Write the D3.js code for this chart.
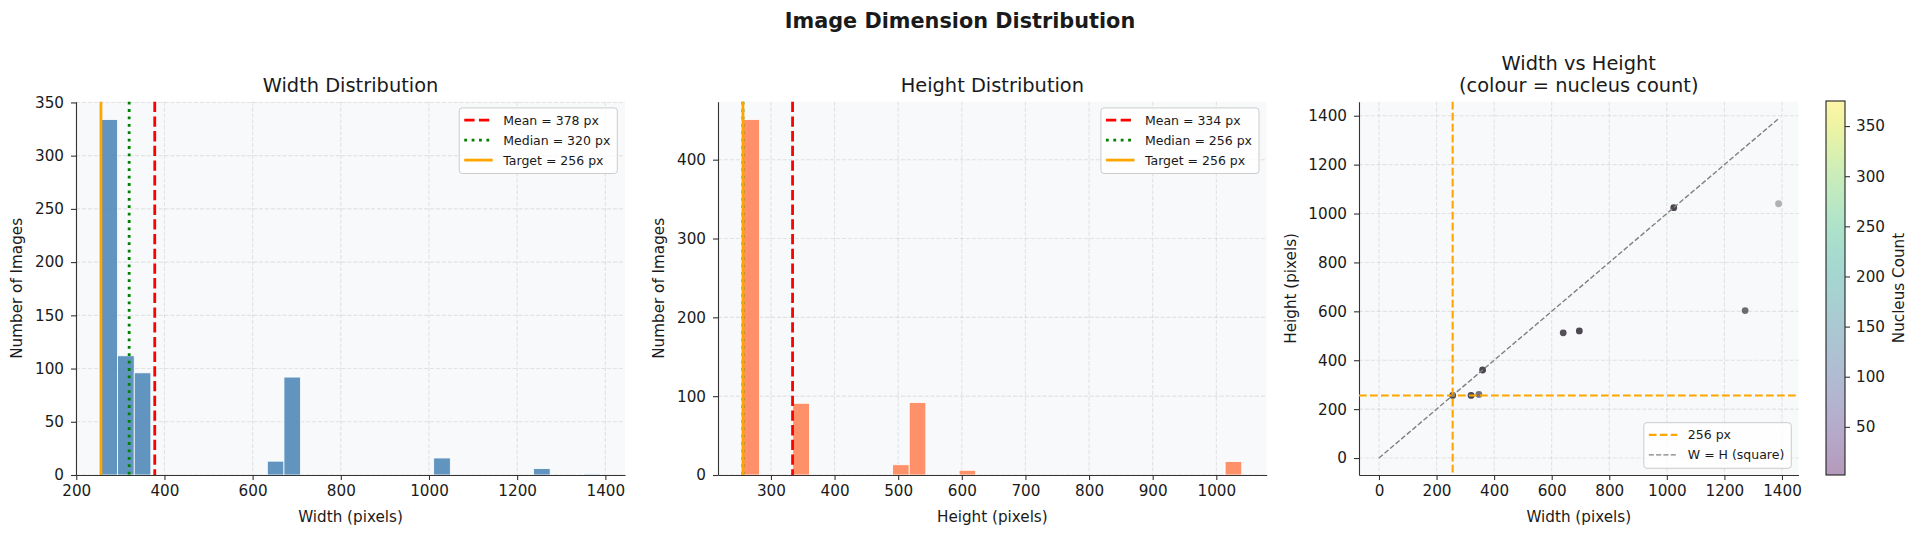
<!DOCTYPE html>
<html><head><meta charset="utf-8">
<script src="https://cdn.jsdelivr.net/npm/d3@7/dist/d3.min.js"></script>
<style>
body{margin:0;background:#fff}
svg{display:block}
text{font-family:"DejaVu Sans",sans-serif;fill:#1a1a1a}
</style>
</head><body>
<svg id="c" width="1920" height="536"></svg>
<script>
// ---------------- DATA ----------------
const binCount = 30;
const widthBinRange = [256, 1388];
const widthBinCounts = [334,112,96,0,0,0,0,0,0,0,13,92,0,0,0,0,0,0,0,0,16,0,0,0,0,0,6,0,0,1];
const heightBinRange = [256, 1040];
const heightBinCounts = [451,0,0,91,0,0,0,0,0,13,92,0,0,6,0,0,0,0,0,0,0,0,0,0,0,0,0,0,0,17];

const statNames = ["Mean", "Median", "Target"];
const widthStats = [378, 320, 256];
const heightStats = [334, 256, 256];

const scatterWidths  = [256, 320, 347, 360, 640, 696, 1024, 1272, 1388];
const scatterHeights = [256, 256, 260, 360, 512, 520, 1024, 603, 1040];
const scatterImageCounts = [334, 112, 5, 91, 13, 92, 16, 6, 1];
const targetSize = 256;

const widthXTicks = [200,400,600,800,1000,1200,1400];
const widthYTicks = [0,50,100,150,200,250,300,350];
const heightXTicks = [300,400,500,600,700,800,900,1000];
const heightYTicks = [0,100,200,300,400];
const scatterTicks = [0,200,400,600,800,1000,1200,1400];
const nucleusRange = [2, 375];
const colorbarTicks = [50,100,150,200,250,300,350];

// ---------------- HELPERS ----------------
const svg = d3.select('#c');
const AX_BG = '#f8f9fa', SPINE = '#333';
const TICK_FS = 15.2, LABEL_FS = 15.2, TITLE_FS = 19.4, LEG_FS = 12.5;
const statStyles = [
  {color:'#ff0000', dash:'10.3,4.4', width:2.8},
  {color:'#008000', dash:'2.8,4.6', width:2.8},
  {color:'#ffa500', dash:null, width:2.8}
];

function makePanel(box, xDom, yDom, xTicks, yTicks) {
  const x = d3.scaleLinear().domain(xDom).range([box.x0, box.x1]);
  const y = d3.scaleLinear().domain(yDom).range([box.y1, box.y0]);
  const g = svg.append('g');
  g.append('rect').attr('x', box.x0).attr('y', box.y0)
    .attr('width', box.x1 - box.x0).attr('height', box.y1 - box.y0).attr('fill', AX_BG);
  const grid = g.append('g').attr('stroke', '#b0b0b0').attr('stroke-opacity', 0.3)
    .attr('stroke-width', 1.1).attr('stroke-dasharray', '4.1,1.8');
  xTicks.forEach(t => grid.append('line').attr('x1', x(t)).attr('x2', x(t)).attr('y1', box.y0).attr('y2', box.y1));
  yTicks.forEach(t => grid.append('line').attr('y1', y(t)).attr('y2', y(t)).attr('x1', box.x0).attr('x2', box.x1));
  const content = g.append('g');
  const axes = svg.append('g');
  const xa = axes.append('g').attr('transform', `translate(0,${box.y1})`)
    .call(d3.axisBottom(x).tickValues(xTicks).tickSize(5).tickPadding(5).tickSizeOuter(0).tickFormat(d3.format('d')));
  const ya = axes.append('g').attr('transform', `translate(${box.x0},0)`)
    .call(d3.axisLeft(y).tickValues(yTicks).tickSize(5).tickPadding(7).tickSizeOuter(0).tickFormat(d3.format('d')));
  [xa, ya].forEach(a => {
    a.select('.domain').attr('stroke', SPINE).attr('stroke-width', 1.1);
    a.selectAll('.tick line').attr('stroke', SPINE).attr('stroke-width', 1.1);
    a.selectAll('.tick text').attr('font-size', TICK_FS).attr('font-family', '"DejaVu Sans",sans-serif').attr('fill', '#1a1a1a');
  });
  return {x, y, g: content, top: svg.append('g'), box};
}

function legend(p, items, corner) {
  const lg = svg.append('g');
  const rowH = 20, handleX0 = 5, handleX1 = 33.5, textX = 44;
  const texts = items.map((it, i) => lg.append('text').attr('font-size', LEG_FS).text(it.label));
  const maxW = d3.max(texts, t => t.node().getComputedTextLength());
  const w = textX + maxW + 7, h = items.length * rowH + 5.6;
  let lx, ly;
  if (corner === 'ur') { lx = p.box.x1 - 7.7 - w; ly = p.box.y0 + 6.2; }
  else { lx = p.box.x1 - 7.2 - w; ly = p.box.y1 - 6.7 - h; }
  lg.insert('rect', ':first-child').attr('x', lx).attr('y', ly).attr('width', w).attr('height', h)
    .attr('rx', 3).attr('fill', '#fff').attr('fill-opacity', 0.8).attr('stroke', '#cccccc').attr('stroke-width', 1);
  items.forEach((it, i) => {
    const base = ly + 16.7 + i * rowH;
    texts[i].attr('x', lx + textX).attr('y', base);
    const l = lg.append('line').attr('x1', lx + handleX0).attr('x2', lx + handleX1)
      .attr('y1', base - 4.5).attr('y2', base - 4.5)
      .attr('stroke', it.color).attr('stroke-width', it.width);
    if (it.dash) l.attr('stroke-dasharray', it.dash);
  });
}

function hist(p, range, counts, color) {
  const bw = (range[1] - range[0]) / binCount;
  p.g.selectAll('rect.bar').data(counts.map((c, i) => ({c, x0: range[0] + i * bw, x1: range[0] + (i + 1) * bw})).filter(d => d.c > 0))
    .join('rect').attr('class', 'bar')
    .attr('x', d => p.x(d.x0)).attr('width', d => p.x(d.x1) - p.x(d.x0))
    .attr('y', d => p.y(d.c)).attr('height', d => p.y(0) - p.y(d.c))
    .attr('fill', color).attr('fill-opacity', 0.85).attr('stroke', '#fff').attr('stroke-width', 0.8);
}

function statLines(p, values) {
  values.forEach((v, i) => {
    const s = statStyles[i];
    const l = p.top.append('line').attr('x1', p.x(v)).attr('x2', p.x(v))
      .attr('y1', p.box.y0).attr('y2', p.box.y1)
      .attr('stroke', s.color).attr('stroke-width', s.width);
    if (s.dash) l.attr('stroke-dasharray', s.dash);
  });
  legend(p, values.map((v, i) => ({...statStyles[i], label: `${statNames[i]} = ${v} px`})), 'ur');
}

function title(cx, lines, baseline) {
  lines.forEach((t, i) => svg.append('text').attr('x', cx).attr('y', baseline - (lines.length - 1 - i) * 21.7)
    .attr('text-anchor', 'middle').attr('font-size', TITLE_FS).text(t));
}
function xLabel(p, t) {
  svg.append('text').attr('x', (p.box.x0 + p.box.x1) / 2).attr('y', 521.5)
    .attr('text-anchor', 'middle').attr('font-size', LABEL_FS).text(t);
}
function yLabel(p, t, bx) {
  svg.append('text').attr('transform', `translate(${bx},${(p.box.y0 + p.box.y1) / 2}) rotate(-90)`)
    .attr('text-anchor', 'middle').attr('font-size', LABEL_FS).text(t);
}

// ---------------- SUPTITLE ----------------
svg.append('text').attr('x', 960).attr('y', 28).attr('text-anchor', 'middle')
  .attr('font-size', 20.8).attr('font-weight', 'bold').text('Image Dimension Distribution');

// ---------------- PANEL 1 ----------------
const wPad = (widthBinRange[1] - widthBinRange[0]) * 0.05;
const p1 = makePanel({x0: 76, x1: 625, y0: 101.7, y1: 475},
  [widthBinRange[0] - wPad, widthBinRange[1] + wPad], [0, d3.max(widthBinCounts) * 1.05], widthXTicks, widthYTicks);
hist(p1, widthBinRange, widthBinCounts, '#4682b4');
statLines(p1, widthStats);
title((76 + 625) / 2, ['Width Distribution'], 91.7);
xLabel(p1, 'Width (pixels)');
yLabel(p1, 'Number of Images', 21.5);

// ---------------- PANEL 2 ----------------
const hPad = (heightBinRange[1] - heightBinRange[0]) * 0.05;
const p2 = makePanel({x0: 718, x1: 1266.7, y0: 101.7, y1: 475},
  [heightBinRange[0] - hPad, heightBinRange[1] + hPad], [0, d3.max(heightBinCounts) * 1.05], heightXTicks, heightYTicks);
hist(p2, heightBinRange, heightBinCounts, '#ff7f50');
statLines(p2, heightStats);
title((718 + 1266.7) / 2, ['Height Distribution'], 91.7);
xLabel(p2, 'Height (pixels)');
yLabel(p2, 'Number of Images', 663.5);

// ---------------- PANEL 3 ----------------
const sMax = d3.max(scatterWidths.concat(scatterHeights));
const sPad = sMax * 0.05;
const p3 = makePanel({x0: 1359, x1: 1798.5, y0: 101.7, y1: 475},
  [-sPad, sMax + sPad], [-sPad, sMax + sPad], scatterTicks, scatterTicks);
const op = d3.scaleLog().domain([1, 16]).range([0.35, 0.85]).clamp(true);
p3.g.selectAll('circle').data(scatterWidths.map((w, i) => ({w, h: scatterHeights[i], n: scatterImageCounts[i]})))
  .join('circle').attr('cx', d => p3.x(d.w)).attr('cy', d => p3.y(d.h)).attr('r', 3.4)
  .attr('fill', '#2e2833').attr('fill-opacity', d => op(d.n));
p3.top.append('line').attr('x1', p3.x(targetSize)).attr('x2', p3.x(targetSize)).attr('y1', p3.box.y0).attr('y2', p3.box.y1)
  .attr('stroke', '#ffa500').attr('stroke-width', 2.1).attr('stroke-dasharray', '7.7,3.3');
p3.top.append('line').attr('y1', p3.y(targetSize)).attr('y2', p3.y(targetSize)).attr('x1', p3.box.x0).attr('x2', p3.box.x1)
  .attr('stroke', '#ffa500').attr('stroke-width', 2.1).attr('stroke-dasharray', '7.7,3.3');
p3.top.append('line').attr('x1', p3.x(0)).attr('y1', p3.y(0)).attr('x2', p3.x(sMax)).attr('y2', p3.y(sMax))
  .attr('stroke', '#808080').attr('stroke-width', 1.4).attr('stroke-dasharray', '5.1,2.2');
legend(p3, [
  {label: `${targetSize} px`, color: '#ffa500', dash: '7.7,3.3', width: 2.1},
  {label: 'W = H (square)', color: '#808080', dash: '5.1,2.2', width: 1.4}
], 'lr');
title((1359 + 1798.5) / 2, ['Width vs Height', '(colour = nucleus count)'], 91.7);
xLabel(p3, 'Width (pixels)');
yLabel(p3, 'Height (pixels)', 1295.5);

// ---------------- COLORBAR ----------------
const cb = {x0: 1826, x1: 1845, y0: 101, y1: 475};
const cy = d3.scaleLinear().domain(nucleusRange).range([cb.y1, cb.y0]);
const defs = svg.append('defs');
const grad = defs.append('linearGradient').attr('id', 'vir').attr('x1', 0).attr('x2', 0).attr('y1', 1).attr('y2', 0);
d3.range(0, 1.0001, 0.05).forEach(t => grad.append('stop').attr('offset', t)
  .attr('stop-color', d3.interpolateViridis(t)).attr('stop-opacity', 0.4));
svg.append('rect').attr('x', cb.x0).attr('y', cb.y0).attr('width', cb.x1 - cb.x0).attr('height', cb.y1 - cb.y0).attr('fill', '#fff');
svg.append('rect').attr('x', cb.x0).attr('y', cb.y0).attr('width', cb.x1 - cb.x0).attr('height', cb.y1 - cb.y0)
  .attr('fill', 'url(#vir)').attr('stroke', '#222').attr('stroke-width', 1.1);
const cba = svg.append('g').attr('transform', `translate(${cb.x1},0)`)
  .call(d3.axisRight(cy).tickValues(colorbarTicks).tickSize(5).tickPadding(6).tickSizeOuter(0));
cba.select('.domain').remove();
cba.selectAll('.tick line').attr('stroke', SPINE).attr('stroke-width', 1.1);
cba.selectAll('.tick text').attr('font-size', TICK_FS).attr('font-family', '"DejaVu Sans",sans-serif').attr('fill', '#1a1a1a');
svg.append('text').attr('transform', `translate(1904,${(cb.y0 + cb.y1) / 2}) rotate(-90)`)
  .attr('text-anchor', 'middle').attr('font-size', LABEL_FS).text('Nucleus Count');
</script>
</body></html>
